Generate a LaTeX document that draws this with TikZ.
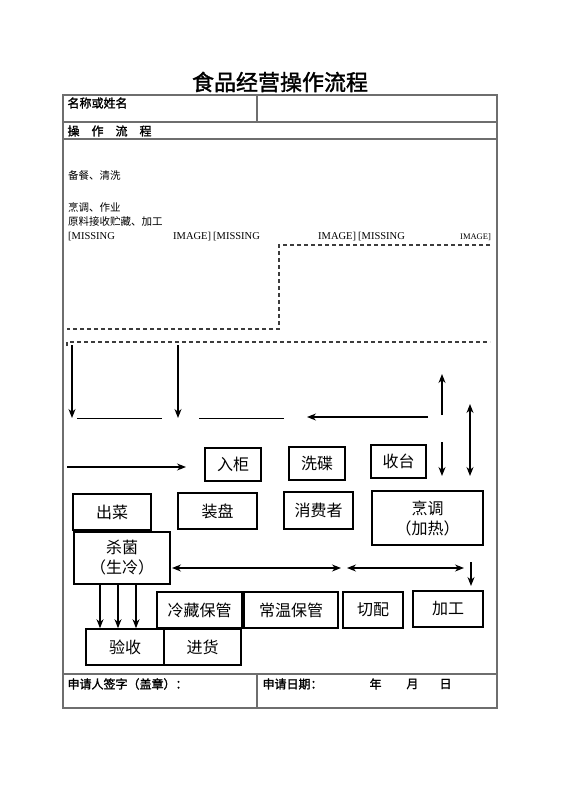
\documentclass[tikz,border=0pt]{standalone}
\usepackage{fontspec}
\setmainfont{Liberation Serif}
\newfontfamily\cjk{Noto Sans CJK SC}
\newfontfamily\cjkbold[FakeBold=1.5]{Noto Sans CJK SC}
\usetikzlibrary{arrows.meta}
\definecolor{ruleColor}{HTML}{6E6E6E}
\definecolor{dashColor}{HTML}{3C3C3C}

\begin{document}
\begin{tikzpicture}[x=1pt, y=-1pt,
    box/.style={draw, line width=1.6pt, inner sep=0pt, align=center,
      font=\cjk\fontsize{16}{20}\selectfont},
    rule/.style={draw=ruleColor, line width=1.2pt},
    dashline/.style={draw=dashColor, line width=1.2pt, dash pattern=on 4pt off 3pt},
    arr/.style={line width=1.2pt, -{Stealth[length=9pt, width=7pt]}},
    twoarr/.style={line width=1.2pt, {Stealth[length=9pt, width=7pt]}-{Stealth[length=9pt, width=7pt]}},
    head/.style={anchor=west, font=\cjkbold\fontsize{12}{14}\selectfont},
    note/.style={anchor=west, inner sep=0pt, font=\cjk\fontsize{10.5}{12}\selectfont},
    miss/.style={anchor=west, inner sep=0pt, font=\fontsize{10.5}{12}\selectfont}]
  \useasboundingbox[fill=white] (0,0) rectangle (560,792);

  % title and form
  \node[font=\cjkbold\fontsize{22}{26}\selectfont] (title) at (280,82) {食品经营操作流程};
  \draw[rule] (63,95) rectangle (497,708);
  \draw[rule] (63,122) -- (497,122);
  \draw[rule] (63,139) -- (497,139);
  \draw[rule] (63,674) -- (497,674);
  \draw[rule] (257,95) -- (257,122);
  \draw[rule] (257,674) -- (257,708);
  \node[head] (name) at (64,103) {名称或姓名};
  \node[head] (flow) at (64,131) {操\hspace{12pt}作\hspace{12pt}流\hspace{12pt}程};
  \node[head] (sign) at (64,684) {申请人签字（盖章）：};
  \node[head] (date) at (259,684) {申请日期：};
  \node[head] (year) at (366,684) {年};
  \node[head] (month) at (403,684) {月};
  \node[head] (day) at (436,684) {日};

  % notes
  \node[note] (wash) at (68,175) {备餐、清洗};
  \node[note] (cook) at (68,207) {烹调、作业};
  \node[note] (raw) at (68,222) {原料接收贮藏、加工};
  \node[miss] (m1) at (68,237) {[MISSING};
  \node[miss] (i1) at (173,237) {IMAGE]};
  \node[miss] (m2) at (213,237) {[MISSING};
  \node[miss] (i2) at (318,237) {IMAGE]};
  \node[miss] (m3) at (358,237) {[MISSING};
  \node[miss, font=\fontsize{8.5}{10}\selectfont] (i3) at (460,237) {IMAGE]};

  % dashed zones
  \draw[dashline] (490,245) -- (279,245) -- (279,329) -- (67,329);
  \draw[dashline] (67,346) -- (67,342) -- (490,342);

  % boxes
  \node[box, minimum width=56, minimum height=33] (rugui) at (233,464.5) {入柜};
  \node[box, minimum width=56, minimum height=33] (xidie) at (317,463.5) {洗碟};
  \node[box, minimum width=55, minimum height=33] (shoutai) at (398.5,461.5) {收台};
  \node[box, minimum width=78, minimum height=36] (chucai) at (112,512) {出菜};
  \node[box, minimum width=79, minimum height=36] (zhuangpan) at (217.5,511) {装盘};
  \node[box, minimum width=69, minimum height=37] (xiaofei) at (318.5,510.5) {消费者};
  \node[box, minimum width=111, minimum height=54] (pengtiao) at (427.5,518) {烹调\\（加热）};
  \node[box, minimum width=96, minimum height=52] (shajun) at (122,558) {杀菌\\（生冷）};
  \node[box, minimum width=85, minimum height=36] (lengcang) at (199.5,610) {冷藏保管};
  \node[box, minimum width=94, minimum height=36] (changwen) at (291,610) {常温保管};
  \node[box, minimum width=60, minimum height=36] (qiepei) at (373,610) {切配};
  \node[box, minimum width=70, minimum height=36] (jiagong) at (448,609) {加工};
  \node[box, minimum width=78, minimum height=36] (yanshou) at (125,647) {验收};
  \node[box, minimum width=77, minimum height=36] (jinhuo) at (202.5,647) {进货};

  % connector ends
  \coordinate (p1) at (72,345);
  \coordinate (q1) at (72,418);
  \coordinate (p2) at (178,345);
  \coordinate (q2) at (178,418);
  \coordinate (l1) at (77,418);
  \coordinate (r1) at (162,418);
  \coordinate (l2) at (199,418);
  \coordinate (r2) at (284,418);
  \coordinate (back) at (428,417);
  \coordinate (backend) at (307,417);
  \coordinate (up) at (442,415);
  \coordinate (upend) at (442,374);
  \coordinate (down) at (442,442);
  \coordinate (downend) at (442,476);
  \coordinate (both) at (470,404);
  \coordinate (bothend) at (470,476);
  \coordinate (go) at (67,467);
  \coordinate (goend) at (186,467);
  \coordinate (h1) at (172,568);
  \coordinate (h2) at (341,568);
  \coordinate (h3) at (347,568);
  \coordinate (h4) at (464,568);
  \coordinate (v1) at (471,562);
  \coordinate (v2) at (471,586);
  \coordinate (d1) at (100,600);
  \coordinate (d2) at (118,600);
  \coordinate (d3) at (136,600);

  % connectors
  \draw[arr] (p1) -- (q1);
  \draw[arr] (p2) -- (q2);
  \draw[line width=1pt] (l1) -- (r1);
  \draw[line width=1pt] (l2) -- (r2);
  \draw[arr] (back) -- (backend);
  \draw[arr] (up) -- (upend);
  \draw[arr] (down) -- (downend);
  \draw[twoarr] (both) -- (bothend);
  \draw[arr] (go) -- (goend);
  \draw[twoarr] (h1) -- (h2);
  \draw[twoarr] (h3) -- (h4);
  \draw[arr] (v1) -- (v2);
  \draw[arr] (shajun.south -| d1) -- (yanshou.north -| d1);
  \draw[arr] (shajun.south -| d2) -- (yanshou.north -| d2);
  \draw[arr] (shajun.south -| d3) -- (yanshou.north -| d3);
\end{tikzpicture}
\end{document}
